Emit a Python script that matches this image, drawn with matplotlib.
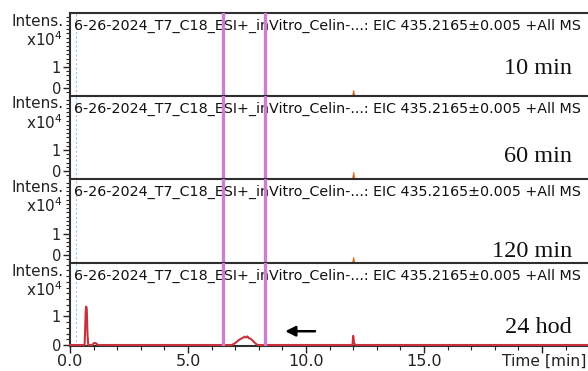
import matplotlib
matplotlib.use("Agg")
import matplotlib.pyplot as plt
from matplotlib.ticker import MultipleLocator, FixedLocator

# Sample labels and header
header = "6-26-2024_T7_C18_ESI+_inVitro_Celin-...: EIC 435.2165\u00b10.005 +All MS"
sample_labels = ["10 min", "60 min", "120 min", "24 hod"]

# Axis ticks
x_major = [0, 5, 10, 15, 20]
x_tick_labels = ["0.0", "5.0", "10.0", "15.0", ""]
y_major = [0, 1]
y_tick_labels = ["0", "1"]

# Retention-time window markers and void marker (min)
window_lines = [6.47, 8.26]
void_time = 0.25

# Small peak at ~12 min seen in the early samples (intensity x10^4)
early_peak_t = [11.95, 12.0, 12.05]
early_peak_i = [[0.0, 0.28, 0.0], [0.0, 0.33, 0.0], [0.0, 0.28, 0.0]]

# 24 h EIC trace (time in min, intensity x10^4)
trace_t = [0.0, 0.62, 0.66, 0.68, 0.71, 0.74, 0.77, 0.80, 0.95, 1.0, 1.05, 1.12, 1.18,
           6.85, 6.95, 7.05, 7.15, 7.25, 7.32, 7.40, 7.46, 7.52, 7.58, 7.65, 7.72,
           7.80, 7.88, 7.95, 11.9, 11.97, 12.0, 12.04, 12.1, 22.0]
trace_i = [0.0, 0.0, 1.05, 1.34, 1.28, 0.4, 0.0, 0.0, 0.0, 0.06, 0.07, 0.05, 0.0,
           0.0, 0.04, 0.1, 0.17, 0.22, 0.25, 0.29, 0.26, 0.30, 0.24, 0.22, 0.17,
           0.1, 0.04, 0.0, 0.0, 0.0, 0.32, 0.06, 0.0, 0.0]

# Arrow pointing toward the window (min, intensity x10^4)
arrow_from = (10.5, 0.48)
arrow_to = (9.0, 0.48)

W, H = 588, 371
fig = plt.figure(figsize=(W / 100, H / 100), dpi=100)
panel_px = [(13, 96), (96, 179), (179, 263), (263, 346)]
left_px, right_px = 70, 588
xmax = 21.95

trace_color = "#c8323c"
early_color = "#d8702c"
window_color = "#cc7fd0"
spine_color = "#2e2e2e"

axes = []
for k, (top, bot) in enumerate(panel_px):
    ax = fig.add_axes([left_px / W, 1 - bot / H, (right_px - left_px) / W, (bot - top) / H])
    axes.append(ax)
    ax.set_xlim(0, xmax)
    if k < 3:
        ylo, yhi = -0.38, 3.57
    else:
        ylo, yhi = -0.035, 2.86
    ax.set_ylim(ylo, yhi)

    ax.spines["right"].set_visible(False)
    ax.spines["bottom"].set_visible(k == 3)
    for s in ["top", "left", "bottom"]:
        ax.spines[s].set_color(spine_color)
        ax.spines[s].set_linewidth(1.5)

    ax.yaxis.set_major_locator(FixedLocator(y_major))
    ax.set_yticklabels(y_tick_labels)
    ax.yaxis.set_minor_locator(MultipleLocator(0.2))
    ax.tick_params(axis="y", which="major", length=5, width=1, pad=1.5,
                   labelsize=10.5, colors="#222222")
    ax.tick_params(axis="y", which="minor", length=3, width=0.8, colors="#222222")

    ax.xaxis.set_major_locator(FixedLocator(x_major))
    ax.xaxis.set_minor_locator(MultipleLocator(1))
    if k == 3:
        ax.set_xticklabels(x_tick_labels)
        ax.tick_params(axis="x", which="major", length=5, width=1, labelsize=11.5,
                       colors="#222222", pad=0.5)
        ax.tick_params(axis="x", which="minor", length=3, width=0.8, colors="#222222")
    else:
        ax.tick_params(axis="x", which="both", length=0, labelbottom=False)

    ax.axvline(void_time, color="#9dc3e6", lw=0.8, ls=(0, (2, 2)), zorder=1)
    for wl in window_lines:
        ax.axvline(wl, color=window_color, lw=2.4, zorder=4)

    ax.text(0.008, 0.843, header, transform=ax.transAxes, ha="left", va="center",
            fontsize=10.25, color="#111111")
    ax.text(-0.013, 1 - 8 / (bot - top), "Intens.", transform=ax.transAxes,
            ha="right", va="center", fontsize=11, color="#222222")
    ax.text(-0.015, 1 - 27 / (bot - top), "x10$^4$", transform=ax.transAxes,
            ha="right", va="center", fontsize=11, color="#222222")

    if k < 3:
        base = [ylo + v for v in early_peak_i[k]]
        ax.fill_between(early_peak_t, ylo, base, color=early_color, lw=0.8, zorder=3)
    else:
        ax.plot(trace_t, trace_i, color=trace_color, lw=1.5, zorder=3, clip_on=False)
        ax.annotate("", xy=arrow_to, xytext=arrow_from,
                    arrowprops=dict(arrowstyle="-|>,head_length=0.6,head_width=0.3",
                                    color="black", lw=1.8))

label_y = [74, 162, 257, 333]
for k, (ax, lab) in enumerate(zip(axes, sample_labels)):
    top, bot = panel_px[k]
    ax.text((572 - left_px) / (right_px - left_px), (bot - label_y[k]) / (bot - top), lab,
            transform=ax.transAxes, ha="right", va="baseline",
            fontsize=17.5, family="Liberation Serif", color="#111111")

axes[3].text(0.997, -0.09, "Time [min]", transform=axes[3].transAxes, ha="right",
             va="top", fontsize=11.2, color="#222222")

fig.savefig("out.png", dpi=100)
